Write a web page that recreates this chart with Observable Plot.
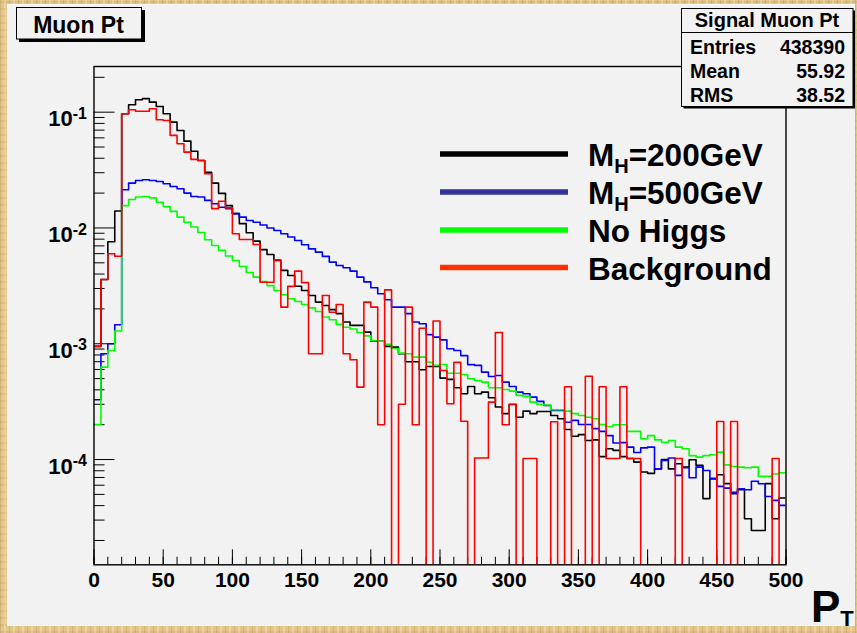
<!DOCTYPE html>
<html><head><meta charset="utf-8">
<script src="https://cdn.jsdelivr.net/npm/d3@7"></script>
<script src="https://cdn.jsdelivr.net/npm/@observablehq/plot@0.6"></script>
<style>
html,body{margin:0;padding:0;}
body{width:857px;height:633px;overflow:hidden;position:relative;
 background-color:#e2c68a;
 background-image:
  repeating-linear-gradient(90deg, rgba(150,105,40,0.20) 0px, rgba(150,105,40,0.20) 1px, transparent 1px, transparent 4px, rgba(255,242,205,0.30) 4px, rgba(255,242,205,0.30) 6px, transparent 6px, transparent 9px),
  repeating-linear-gradient(0deg, rgba(170,120,50,0.14) 0px, rgba(170,120,50,0.14) 2px, transparent 2px, transparent 7px);
 font-family:"Liberation Sans", Arial, sans-serif;}
#pad{position:absolute;left:7px;top:4px;width:848px;height:622px;background:#f2f2f2;box-sizing:border-box;border-left:1px solid #fafafa;border-top:1px solid #fafafa;}
#chart{position:absolute;left:0;top:0;}
#overlay{position:absolute;left:0;top:0;}
</style></head>
<body>
<div id="pad"></div>
<div id="chart"></div>
<script>
// ---- data (bin contents, 5 GeV bins from 0 to 500) ----
const binLowEdges = d3.range(0, 500, 5);
const xMax = 500;
const seriesNames = ["M_H=200GeV", "M_H=500GeV", "No Higgs", "Background"];

const mh200 = [9.5e-4, 3.59e-3, 7.6e-3, 1.40e-2, 0.097, 0.116, 0.128, 0.131, 0.122, 0.112,
0.097, 0.082, 0.0695, 0.0562, 0.046, 0.0383, 0.0303, 0.0244, 0.0199, 0.0156,
0.0133, 0.0109, 9.1e-3, 7.7e-3, 6.5e-3, 5.9e-3, 5.24e-3, 4.30e-3, 3.89e-3, 3.14e-3,
2.88e-3, 2.61e-3, 2.29e-3, 2.14e-3, 1.97e-3, 1.82e-3, 1.54e-3, 1.44e-3, 1.44e-3, 1.26e-3,
1.05e-3, 1.05e-3, 9.5e-4, 9.35e-4, 8.2e-4, 7.0e-4, 7.0e-4, 5.96e-4, 6.37e-4, 6.37e-4,
5.05e-4, 4.92e-4, 4.17e-4, 3.70e-4, 4.28e-4, 3.70e-4, 3.82e-4, 3.42e-4, 2.84e-4, 2.49e-4,
2.99e-4, 2.32e-4, 2.62e-4, 2.49e-4, 2.60e-4, 2.60e-4, 2.40e-4, 2.25e-4, 1.82e-4, 1.59e-4,
1.64e-4, 1.46e-4, 1.48e-4, 1.06e-4, 1.24e-4, 1.20e-4, 1.06e-4, 1.02e-4, 9.5e-5, 7.8e-5,
7.6e-5, 8.3e-5, 1.0e-4, 8.3e-5, 9.2e-5, 8.6e-5, 9.95e-5, 8.9e-5, 4.6e-5, 6.8e-5,
7.4e-5, 6.2e-5, 5.07e-5, 5.5e-5, 3.08e-5, 2.44e-5, 2.44e-5, 6.2e-5, 3.08e-5, 4.65e-5];

const mh500 = [3.28e-4, 8.2e-4, 1.0e-3, 1.46e-3, 0.0214, 0.0244, 0.0257, 0.0261, 0.0257, 0.0252,
0.0241, 0.0228, 0.0218, 0.0200, 0.0187, 0.0185, 0.0173, 0.0162, 0.0151, 0.0147,
0.0133, 0.0124, 0.0116, 0.0112, 0.0106, 0.0100, 9.5e-3, 8.9e-3, 8.36e-3, 7.8e-3,
7.16e-3, 6.6e-3, 6.18e-3, 5.68e-3, 5.07e-3, 4.74e-3, 4.53e-3, 4.24e-3, 3.76e-3, 3.42e-3,
3.05e-3, 2.70e-3, 2.40e-3, 2.07e-3, 2.07e-3, 1.82e-3, 1.54e-3, 1.49e-3, 1.20e-3, 1.14e-3,
1.08e-3, 9.06e-4, 8.75e-4, 7.9e-4, 6.6e-4, 6.5e-4, 5.69e-4, 5.22e-4, 5.32e-4, 4.66e-4,
4.28e-4, 3.82e-4, 3.70e-4, 3.46e-4, 3.18e-4, 2.93e-4, 2.65e-4, 2.65e-4, 2.10e-4, 2.18e-4,
2.01e-4, 2.01e-4, 1.85e-4, 1.75e-4, 1.61e-4, 1.39e-4, 1.40e-4, 1.28e-4, 1.15e-4, 1.26e-4,
1.28e-4, 8.3e-5, 9.8e-5, 1.03e-4, 7.3e-5, 8.5e-5, 6.97e-5, 8.6e-5, 8.05e-5, 6.9e-5,
5.86e-5, 5.66e-5, 5.22e-5, 5.6e-5, 5.48e-5, 6.5e-5, 6.18e-5, 4.8e-5, 4.44e-5, 4.02e-5];

const noHiggs = [2.01e-4, 6.28e-4, 8.75e-4, 1.29e-3, 0.0156, 0.0176, 0.0185, 0.0187, 0.0182, 0.0167,
0.0153, 0.0139, 0.0124, 0.0112, 0.0102, 9.15e-3, 7.9e-3, 7.06e-3, 6.4e-3, 5.73e-3,
5.24e-3, 4.65e-3, 4.13e-3, 3.76e-3, 3.45e-3, 3.18e-3, 2.88e-3, 2.65e-3, 2.45e-3, 2.32e-3,
2.18e-3, 2.04e-3, 1.90e-3, 1.70e-3, 1.61e-3, 1.47e-3, 1.39e-3, 1.34e-3, 1.25e-3, 1.17e-3,
1.06e-3, 1.05e-3, 9.9e-4, 9.1e-4, 8.3e-4, 8.2e-4, 7.66e-4, 7.66e-4, 6.93e-4, 6.5e-4,
6.62e-4, 5.57e-4, 5.57e-4, 5.43e-4, 4.99e-4, 4.82e-4, 4.66e-4, 4.17e-4, 4.17e-4, 4.03e-4,
3.9e-4, 3.58e-4, 3.51e-4, 3.13e-4, 3.0e-4, 2.96e-4, 2.69e-4, 2.69e-4, 2.62e-4, 2.49e-4,
2.40e-4, 2.32e-4, 2.25e-4, 2.01e-4, 1.93e-4, 2.0e-4, 2.0e-4, 1.75e-4, 1.75e-4, 1.51e-4,
1.61e-4, 1.48e-4, 1.41e-4, 1.46e-4, 1.28e-4, 1.24e-4, 1.08e-4, 1.05e-4, 1.08e-4, 1.10e-4,
1.16e-4, 9.0e-5, 8.7e-5, 8.6e-5, 8.5e-5, 8.6e-5, 7.15e-5, 7.15e-5, 7.5e-5, 7.7e-5];

const background = [9.5e-4, 3.59e-3, 5.98e-3, 5.7e-3, 0.097, 0.105, 0.102, 0.102, 0.107, 0.086,
0.0848, 0.063, 0.0533, 0.0452, 0.0391, 0.0383, 0.0294, 0.0147, 0.017, 0.0149,
8.9e-3, 7.96e-3, 7.96e-3, 7.2e-3, 3.40e-3, 3.40e-3, 5.3e-3, 2.07e-3, 3.13e-3, 4.24e-3,
3.37e-3, 8.2e-4, 8.2e-4, 2.61e-3, 1.87e-3, 2.18e-3, 8.2e-4, 7.28e-4, 4.22e-4, 2.29e-3,
2.07e-3, 2.0e-4, 2.92e-3, 0, 3.0e-4, 2.07e-3, 2.0e-4, 1.36e-3, 0, 1.57e-3,
5.88e-4, 3.03e-4, 6.9e-4, 2.14e-4, 0, 1.03e-4, 1.03e-4, 3.13e-4, 1.25e-3, 2.0e-4,
3.0e-4, 0, 1.02e-4, 1.02e-4, 0, 0, 2.12e-4, 0, 4.25e-4, 0,
0, 5.24e-4, 0, 4.25e-4, 1.02e-4, 1.02e-4, 4.25e-4, 1.02e-4, 1.02e-4, 0,
0, 0, 0, 0, 1.02e-4, 0, 0, 0, 0, 0,
2.13e-4, 0, 2.13e-4, 0, 0, 0, 0, 0, 1.02e-4, 0];

const histColors = ["#000000", "#0000ff", "#00ff00", "#ff0000"];
const legendColors = ["#000000", "#333399", "#00ff00", "#ff3300"];

const xMajorTicks = [0, 50, 100, 150, 200, 250, 300, 350, 400, 450, 500];
const xMinorTicks = d3.range(0, 501, 10);
const yMajorTicks = [1e-4, 1e-3, 1e-2, 1e-1];
const yMinorTicks = [2e-5,3e-5,4e-5,5e-5,6e-5,7e-5,8e-5,9e-5,
  2e-4,3e-4,4e-4,5e-4,6e-4,7e-4,8e-4,9e-4,
  2e-3,3e-3,4e-3,5e-3,6e-3,7e-3,8e-3,9e-3,
  2e-2,3e-2,4e-2,5e-2,6e-2,7e-2,8e-2,9e-2, 2e-1];

const statsTitle = "Signal Muon Pt";
const statsRows = [["Entries", "438390"], ["Mean", "55.92"], ["RMS", "38.52"]];
const yDomain = [1.233e-5, 0.248];

// ---- layout ----
const W = 857, H = 633;
const mL = 93.5, mR = 71.5, mT = 66, mB = 68.7;
const frameW = W - mL - mR, frameH = H - mT - mB;

function steps(vals, name) {
  const pts = vals.map((v, i) => ({x: binLowEdges[i], y: Math.max(v, yDomain[0]), s: name}));
  pts.push({x: xMax, y: Math.max(vals[vals.length - 1], yDomain[0]), s: name});
  return pts;
}
const allSeries = [mh200, mh500, noHiggs, background];

const chart = Plot.plot({
  width: W, height: H,
  marginLeft: mL, marginRight: mR, marginTop: mT, marginBottom: mB,
  style: {background: "transparent", fontFamily: "'Liberation Sans', Arial, sans-serif", fontWeight: "bold", fontSize: "21px", color: "#000", overflow: "visible"},
  x: {domain: [0, xMax]},
  y: {type: "log", domain: yDomain},
  marks: [
    Plot.ruleX(xMinorTicks, {x: d => d, insetTop: frameH - 7.5, stroke: "#000", strokeWidth: 1}),
    Plot.ruleX(xMajorTicks, {x: d => d, insetTop: frameH - 15, stroke: "#000", strokeWidth: 1}),
    Plot.ruleY(yMinorTicks, {y: d => d, insetRight: frameW - 11, stroke: "#000", strokeWidth: 1}),
    Plot.ruleY(yMajorTicks, {y: d => d, insetRight: frameW - 21, stroke: "#000", strokeWidth: 1}),
    Plot.axisX({ticks: xMajorTicks, tickSize: 0, tickPadding: 7, label: null, tickFormat: d => String(d), fontSize: 21}),
    Plot.axisY({ticks: yMajorTicks, tickSize: 0, tickPadding: 7, label: null, fontSize: 22,
      tickFormat: d => "10|" + Math.round(Math.log10(d))}),
    ...allSeries.map((vals, k) => Plot.line(steps(vals, seriesNames[k]), {
      x: "x", y: "y", curve: "step-after", stroke: histColors[k], strokeWidth: 1.6, clip: true})),
    Plot.frame({stroke: "#000", strokeWidth: 1.4})
  ]
});
document.getElementById("chart").appendChild(chart);

// superscripts in y tick labels
chart.querySelectorAll('g[aria-label="y-axis tick label"] text').forEach(t => {
  const [base, exp] = t.textContent.split("|");
  t.textContent = "";
  const ns = "http://www.w3.org/2000/svg";
  const a = document.createElementNS(ns, "tspan");
  a.setAttribute("dy", "7"); a.textContent = base;
  const b = document.createElementNS(ns, "tspan");
  b.setAttribute("dy", "-7.4"); b.setAttribute("font-size", "16"); b.textContent = exp;
  t.appendChild(a); t.appendChild(b);
});

// ---- overlay: title box, stats box, legend, axis title ----
const ov = d3.select("body").append("svg").attr("id", "overlay")
  .attr("width", W).attr("height", H)
  .style("font-family", "'Liberation Sans', Arial, sans-serif").style("font-weight", "bold");

// title box
ov.append("rect").attr("x", 19).attr("y", 10).attr("width", 126).attr("height", 32).attr("fill", "#000");
ov.append("rect").attr("x", 16.5).attr("y", 7.5).attr("width", 125).attr("height", 31.5)
  .attr("fill", "#f2f2f2").attr("stroke", "#000").attr("stroke-width", 1);
ov.append("text").attr("x", 78.5).attr("y", 33.3).attr("text-anchor", "middle")
  .attr("font-size", 23).text("Muon Pt");

// stats box
ov.append("rect").attr("x", 683.5).attr("y", 10.5).attr("width", 171.5).attr("height", 98).attr("fill", "#000");
ov.append("rect").attr("x", 681.5).attr("y", 8.5).attr("width", 171.5).attr("height", 98)
  .attr("fill", "#f2f2f2").attr("stroke", "#000").attr("stroke-width", 1);
ov.append("line").attr("x1", 681.5).attr("x2", 853).attr("y1", 32.5).attr("y2", 32.5)
  .attr("stroke", "#000").attr("stroke-width", 1);
ov.append("text").attr("x", 767).attr("y", 26.7).attr("text-anchor", "middle")
  .attr("font-size", 20).text(statsTitle);
statsRows.forEach((r, i) => {
  const yb = 54 + i * 24;
  ov.append("text").attr("x", 690).attr("y", yb).attr("font-size", 19.5).text(r[0]);
  ov.append("text").attr("x", 845).attr("y", yb).attr("text-anchor", "end").attr("font-size", 19.5).text(r[1]);
});

// legend
const legY = [154, 192, 230, 267.5];
seriesNames.forEach((name, i) => {
  ov.append("line").attr("x1", 440).attr("x2", 568).attr("y1", legY[i]).attr("y2", legY[i])
    .attr("stroke", legendColors[i]).attr("stroke-width", 5.5);
  const t = ov.append("text").attr("x", 588).attr("y", legY[i] + 12).attr("font-size", 31.5);
  if (name.startsWith("M_H")) {
    t.append("tspan").text("M");
    t.append("tspan").attr("font-size", 20).attr("dy", 7).text("H");
    t.append("tspan").attr("dy", -7).text(name.slice(3));
  } else {
    t.text(name);
  }
});

// x axis title P_T (kept inside the canvas)
const px = ov.append("text").attr("x", 811).attr("y", 622).attr("font-size", 44);
px.append("tspan").text("P");
px.append("tspan").attr("font-size", 22).attr("dy", 4).text("T");
</script>
</body></html>
